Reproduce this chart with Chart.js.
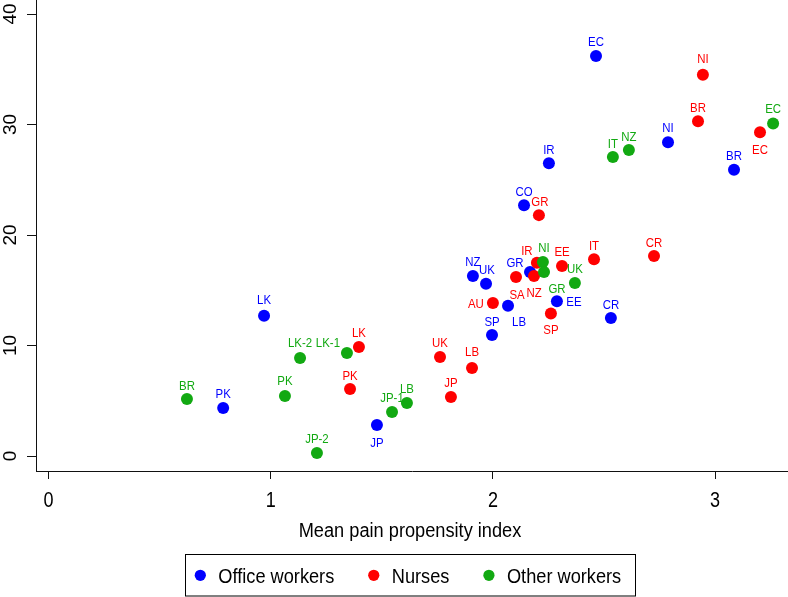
<!DOCTYPE html>
<html>
<head>
<meta charset="utf-8">
<script src="https://cdn.jsdelivr.net/npm/chart.js@4/dist/chart.umd.min.js"></script>
<style>
html,body{margin:0;padding:0;background:#fff;}
#wrap{width:788px;height:597px;position:relative;}
</style>
</head>
<body>
<div id="wrap"><canvas id="c" width="788" height="597"></canvas></div>
<script>
// ---- data ----
const officeLabels = ['EC','NI','BR','IR','CO','NZ','UK','GR','LB','SP','EE','CR','LK','PK','JP'];
const officeX      = [2.464,2.788,3.085,2.252,2.140,1.910,1.969,2.167,2.068,1.996,2.288,2.531,0.970,0.786,1.478];
const officeY      = [36.2,28.4,25.9,26.5,22.7,16.3,15.6,16.65,13.6,10.95,14.0,12.5,12.7,4.34,2.8];

const nurseLabels = ['NI','BR','EC','GR','CR','IT','EE','IR','NZ','SA','AU','SP','UK','LB','JP','LK','PK'];
const nurseX      = [2.945,2.923,3.202,2.207,2.725,2.455,2.311,2.198,2.185,2.104,2.000,2.261,1.762,1.906,1.811,1.397,1.357];
const nurseY      = [34.5,30.3,29.3,21.8,18.1,17.8,17.2,17.5,16.3,16.2,13.85,12.9,8.96,7.96,5.34,9.86,6.06];

const otherLabels = ['EC','NZ','IT','NI','GR','UK','LK-2','LK-1','PK','BR','JP-2','JP-1','LB'];
const otherX      = [3.261,2.612,2.540,2.225,2.230,2.369,1.132,1.343,1.064,0.623,1.208,1.546,1.613];
const otherY      = [30.1,27.7,27.06,17.56,16.65,15.66,8.87,9.32,5.43,5.16,0.27,3.98,4.8];

const seriesNames = ['Office workers','Nurses','Other workers'];
const xTickValues = [0,1,2,3];
const yTickValues = [0,10,20,30,40];
const xAxisTitle = 'Mean pain propensity index';

// ---- label placement (style, pixel offsets of label centre from point) ----
const officeLabelOffset = [[0,-14],[0,-14],[0,-13],[0,-13],[0,-13],[0,-13],[1,-13],[-15,-9],[11,17],[0,-13],[17,1],[0,-12],[0,-15],[0,-14],[0,18]];
const nurseLabelOffset  = [[0,-15],[0,-13],[0,18],[1,-13],[0,-13],[0,-13],[0,-14],[-10,-11],[0,18],[1,18],[-17,1],[0,17],[0,-14],[0,-16],[0,-14],[0,-14],[0,-13]];
const otherLabelOffset  = [[0,-14],[0,-13],[0,-13],[1,-14],[13,17],[0,-14],[0,-15],[-19,-10],[0,-15],[0,-13],[0,-14],[0,-14],[0,-14]];

const colors = ['#0000FF','#FF0000','#12A912'];
const FONT = '"Liberation Sans", Arial, Helvetica, sans-serif';
const SQUASH = 0.91;

function pts(xs, ys){ return xs.map((x,i)=>({x:x, y:ys[i]})); }

const labelSets = [
  {labels: officeLabels, off: officeLabelOffset},
  {labels: nurseLabels,  off: nurseLabelOffset},
  {labels: otherLabels,  off: otherLabelOffset}
];

function drawText(ctx, txt, x, y, size, align, baseline, color, squash){
  ctx.save();
  ctx.font = size + 'px ' + FONT;
  ctx.fillStyle = color || '#000';
  ctx.textAlign = align;
  ctx.textBaseline = baseline;
  ctx.translate(x, y);
  ctx.scale(squash || SQUASH, 1);
  ctx.fillText(txt, 0, 0);
  ctx.restore();
}

const decor = {
  id: 'decor',
  afterDatasetsDraw(chart){
    const ctx = chart.ctx;
    labelSets.forEach((set, di) => {
      const meta = chart.getDatasetMeta(di);
      meta.data.forEach((el, i) => {
        const o = set.off[i] || [0,-14];
        drawText(ctx, set.labels[i], el.x + o[0], el.y + o[1], 13, 'center', 'middle', colors[di], 0.88);
      });
    });
  },
  afterDraw(chart){
    const ctx = chart.ctx;
    const xs = chart.scales.x, ys = chart.scales.y;
    const ca = chart.chartArea;
    // y tick labels (rotated)
    yTickValues.forEach(v => {
      const py = ys.getPixelForValue(v);
      ctx.save();
      ctx.font = '19px ' + FONT;
      ctx.fillStyle = '#000';
      ctx.textAlign = 'center';
      ctx.textBaseline = 'alphabetic';
      ctx.translate(15.5, py);
      ctx.rotate(-Math.PI/2);
      ctx.fillText(String(v), 0, 0);
      ctx.restore();
    });
    // x tick labels
    xTickValues.forEach(v => {
      const px = xs.getPixelForValue(v);
      drawText(ctx, String(v), px, 507, 22, 'center', 'alphabetic', '#000', 0.82);
    });
    // axis title
    const cx = (ca.left + ca.right) / 2 - 2;
    drawText(ctx, xAxisTitle, cx, 537, 20, 'center', 'alphabetic', '#000');
    // legend
    ctx.save();
    ctx.font = '20px ' + FONT;
    const widths = seriesNames.map(n => ctx.measureText(n).width * SQUASH);
    ctx.restore();
    const padL = 15.5, padR = 14, dotGap = 18, itemGap = 39.5;
    let total = padL + padR;
    widths.forEach((w,i) => { total += dotGap + w + (i < widths.length-1 ? itemGap : 0); });
    const bx = cx - total/2, by = 554, bh = 41.5;
    ctx.save();
    ctx.strokeStyle = '#000';
    ctx.lineWidth = 1;
    ctx.strokeRect(Math.round(bx)+0.5, by+0.5, Math.round(total), bh);
    ctx.restore();
    let x = bx + padL;
    seriesNames.forEach((n,i) => {
      ctx.save();
      ctx.fillStyle = colors[i];
      ctx.beginPath();
      ctx.arc(x, 575.3, 5.6, 0, Math.PI*2);
      ctx.fill();
      ctx.restore();
      drawText(ctx, n, x + dotGap, 583, 20, 'left', 'alphabetic', '#000');
      x += dotGap + widths[i] + itemGap;
    });
  }
};

const axisCommon = {
  ticks: {display: false},
  grid: {display: true, drawOnChartArea: false, drawTicks: true, color: '#111', lineWidth: 1},
  border: {display: true, color: '#111', width: 1}
};

new Chart(document.getElementById('c'), {
  type: 'scatter',
  data: {
    datasets: [
      {label: seriesNames[0], data: pts(officeX, officeY), backgroundColor: colors[0], borderWidth: 0, pointRadius: 6, order: 2},
      {label: seriesNames[1], data: pts(nurseX, nurseY), backgroundColor: colors[1], borderWidth: 0, pointRadius: 6, order: 1},
      {label: seriesNames[2], data: pts(otherX, otherY), backgroundColor: colors[2], borderWidth: 0, pointRadius: 6, order: 0}
    ]
  },
  options: {
    responsive: false,
    devicePixelRatio: 1,
    animation: false,
    events: [],
    layout: {padding: 0, autoPadding: false},
    plugins: {legend: {display: false}, tooltip: {enabled: false}, title: {display: false}},
    scales: {
      x: Object.assign({}, axisCommon, {
        type: 'linear', min: -0.0563, max: 3.328,
        grid: Object.assign({}, axisCommon.grid, {tickLength: 8}),
        afterBuildTicks: s => { s.ticks = xTickValues.map(v => ({value: v})); },
        afterFit: s => { s.height = 126; }
      }),
      y: Object.assign({}, axisCommon, {
        type: 'linear', min: -1.357, max: 41.27,
        grid: Object.assign({}, axisCommon.grid, {tickLength: 9}),
        afterBuildTicks: s => { s.ticks = yTickValues.map(v => ({value: v})); },
        afterFit: s => { s.width = 36; }
      })
    }
  },
  plugins: [decor]
});
</script>
</body>
</html>
